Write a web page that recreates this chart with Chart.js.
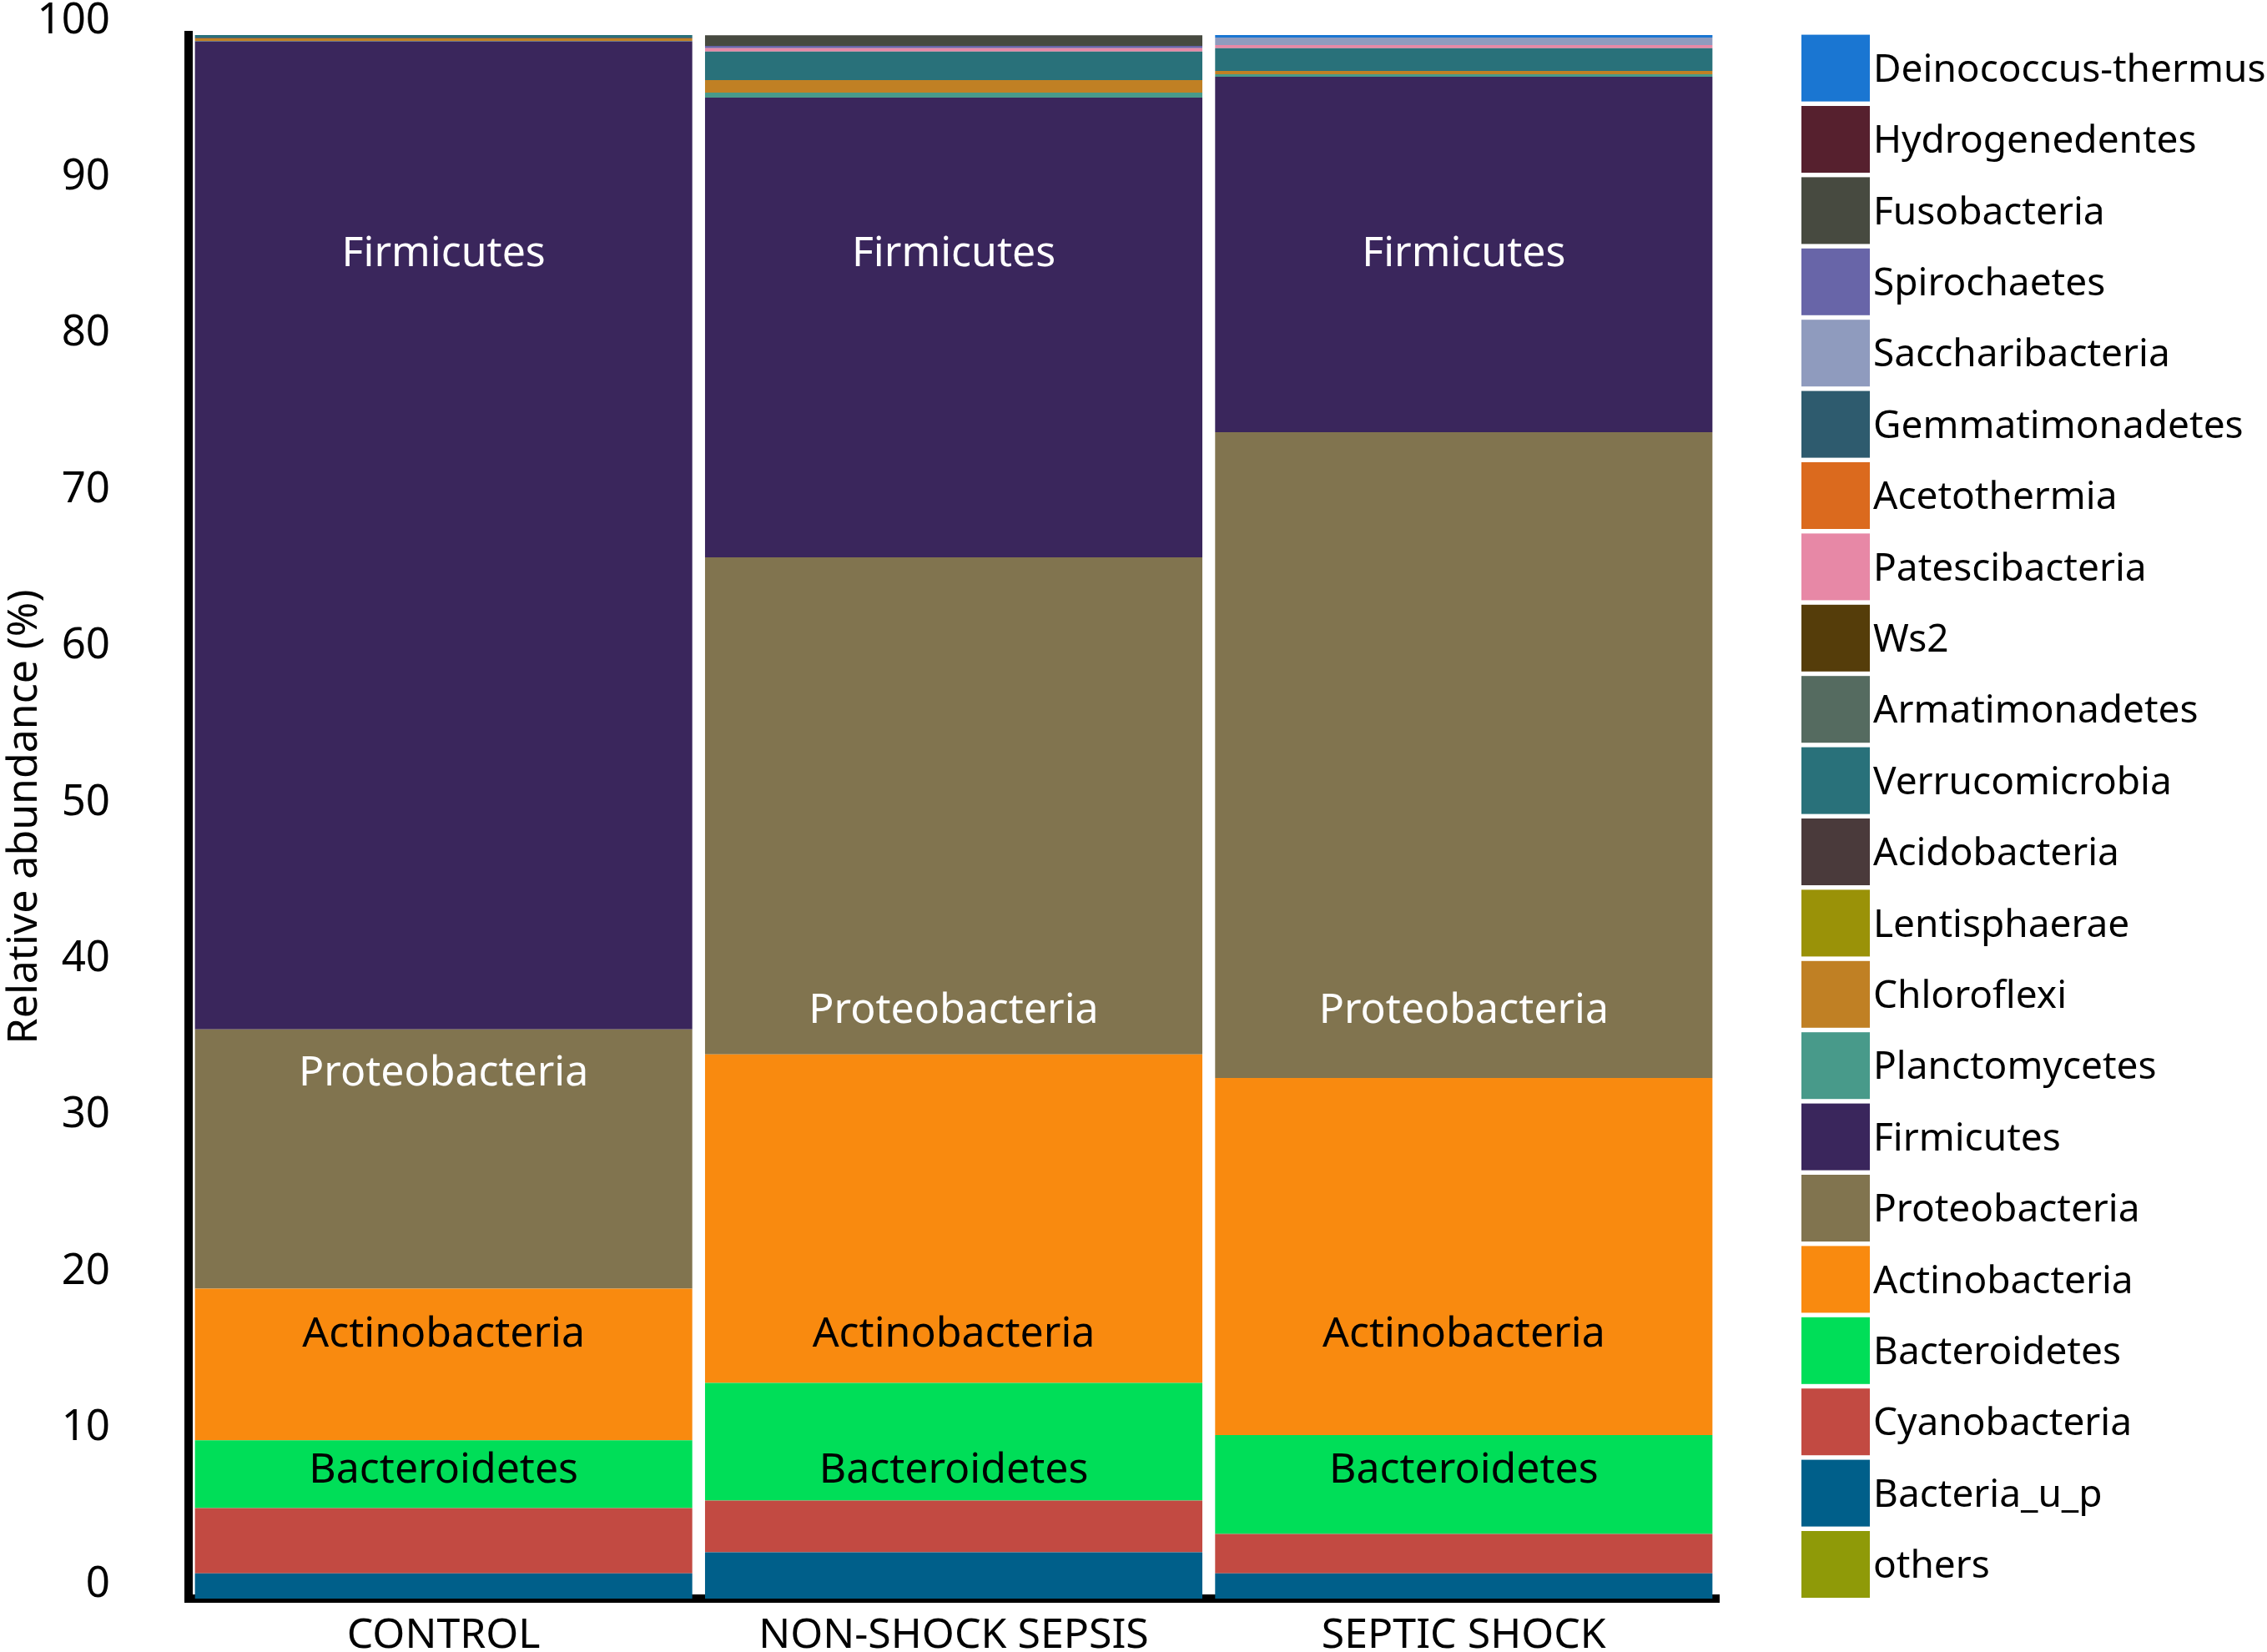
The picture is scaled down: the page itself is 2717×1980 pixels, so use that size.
<!DOCTYPE html>
<html>
<head>
<meta charset="utf-8">
<script src="https://cdn.jsdelivr.net/npm/chart.js@4/dist/chart.umd.min.js"></script>
<style>
  html, body { margin: 0; padding: 0; background: #fff; }
  #wrap { width: 2717px; height: 1980px; }
</style>
</head>
<body>
<div id="wrap"><canvas id="abundanceChart" width="2717" height="1980"></canvas></div>
<script>
// groups on the x axis
const groups = ['CONTROL', 'NON-SHOCK SEPSIS', 'SEPTIC SHOCK'];

// phyla, stacking order bottom -> top (legend shows them reversed)
const phyla = [
    'others', 'Bacteria_u_p', 'Cyanobacteria', 'Bacteroidetes', 'Actinobacteria',
    'Proteobacteria', 'Firmicutes', 'Planctomycetes', 'Chloroflexi', 'Lentisphaerae',
    'Acidobacteria', 'Verrucomicrobia', 'Armatimonadetes', 'Ws2', 'Patescibacteria',
    'Acetothermia', 'Gemmatimonadetes', 'Saccharibacteria', 'Spirochaetes',
    'Fusobacteria', 'Hydrogenedentes', 'Deinococcus-thermus'
];

// relative abundance (%) per group, same order as phyla
const controlValues  = [0, 1.62, 4.17, 4.33, 9.71, 16.57, 63.2, 0.02, 0.16, 0, 0.05, 0.21, 0, 0, 0, 0, 0, 0, 0, 0, 0, 0];
const nonShockValues = [0, 2.96, 3.31, 7.53, 21.0, 31.8, 29.4, 0.32, 0.8, 0, 0, 1.83, 0, 0, 0.21, 0, 0, 0, 0.14, 0.68, 0, 0];
const septicValues   = [0, 1.62, 2.51, 6.33, 22.84, 41.3, 22.73, 0.16, 0.21, 0, 0, 1.46, 0, 0, 0.2, 0, 0, 0.48, 0, 0, 0, 0.2];

const yTicks = [0, 10, 20, 30, 40, 50, 60, 70, 80, 90, 100];

// names written inside the bars and the % level where each one sits
const barLabels = ['Firmicutes', 'Proteobacteria', 'Actinobacteria', 'Bacteroidetes'];
const barLabelLevels = [
    [86, 86, 86],
    [33.6, 37.6, 37.6],
    [16.9, 16.9, 16.9],
    [8.2, 8.2, 8.2]
];

// colours, same order as phyla
const phylumColors = [
    '#8f9a08', '#005f8a', '#c24a42', '#00de58', '#f98a0f',
    '#81744f', '#3a265c', '#489a8a', '#c08024', '#9a9208',
    '#4a3a3b', '#29717a', '#556b60', '#553d0a', '#e788a6',
    '#db6a1e', '#2e5b6e', '#8f9bbe', '#6865a8',
    '#474a40', '#56202e', '#1a76d2'
];
const barLabelColors = ['#ffffff', '#ffffff', '#000000', '#000000'];

const FONT = '"Noto Sans", sans-serif';

const datasets = phyla.map((name, i) => ({
    label: name,
    data: [controlValues[i], nonShockValues[i], septicValues[i]],
    backgroundColor: phylumColors[i],
    borderWidth: 0,
    categoryPercentage: 1,
    barPercentage: 0.975
}));

// text inside the bars
const barLabelPlugin = {
    id: 'barLabels',
    afterDatasetsDraw(chart) {
        const ctx = chart.ctx;
        const x = chart.scales.x;
        const y = chart.scales.y;
        ctx.save();
        ctx.font = '50px ' + FONT;
        ctx.textAlign = 'center';
        ctx.textBaseline = 'middle';
        barLabels.forEach((text, k) => {
            ctx.fillStyle = barLabelColors[k];
            groups.forEach((g, i) => {
                ctx.fillText(text, x.getPixelForValue(i), y.getPixelForValue(barLabelLevels[k][i]));
            });
        });
        ctx.restore();
    }
};

// legend drawn as one column of big swatches on the right
const sideLegendPlugin = {
    id: 'sideLegend',
    afterDraw(chart) {
        const ctx = chart.ctx;
        const left = chart.chartArea.right + 99;
        const top = 41.6;
        const step = 85.4;
        ctx.save();
        ctx.font = '46px ' + FONT;
        ctx.textAlign = 'left';
        ctx.textBaseline = 'middle';
        for (let n = 0; n < phyla.length; n++) {
            const i = phyla.length - 1 - n;
            const yy = top + n * step;
            ctx.fillStyle = phylumColors[i];
            ctx.fillRect(left, yy, 82, 80);
            ctx.fillStyle = '#000';
            ctx.fillText(phyla[i], left + 86, yy + 43);
        }
        ctx.restore();
    }
};

const config = {
    type: 'bar',
    data: { labels: groups, datasets: datasets },
    options: {
        responsive: false,
        animation: false,
        devicePixelRatio: 1,
        layout: { padding: { top: 42, right: 657, left: 0, bottom: 0 } },
        plugins: {
            legend: { display: false },
            tooltip: { enabled: false }
        },
        scales: {
            x: {
                stacked: true,
                grid: { display: false, drawTicks: false },
                border: { display: true, color: '#000', width: 10 },
                ticks: { color: '#000', font: { family: FONT, size: 50 }, padding: 15, maxRotation: 0 },
                afterFit(scale) {
                    scale.height = 64;
                    scale.paddingLeft = 0;
                    scale.paddingRight = 0;
                }
            },
            y: {
                stacked: true,
                min: 0,
                max: 100,
                afterBuildTicks(scale) { scale.ticks = yTicks.map(v => ({ value: v })); },
                grid: { display: false, drawTicks: false },
                border: { display: true, color: '#000', width: 10 },
                ticks: { color: '#000', font: { family: FONT, size: 51 }, padding: 94, labelOffset: -17 },
                title: {
                    display: true,
                    text: 'Relative abundance (%)',
                    color: '#000',
                    font: { family: FONT, size: 50 },
                    padding: 0
                },
                afterFit(scale) {
                    scale.width = 226;
                    scale.paddingTop = 0;
                    scale.paddingBottom = 0;
                }
            }
        }
    },
    plugins: [barLabelPlugin, sideLegendPlugin]
};

new Chart(document.getElementById('abundanceChart').getContext('2d'), config);
</script>
</body>
</html>
